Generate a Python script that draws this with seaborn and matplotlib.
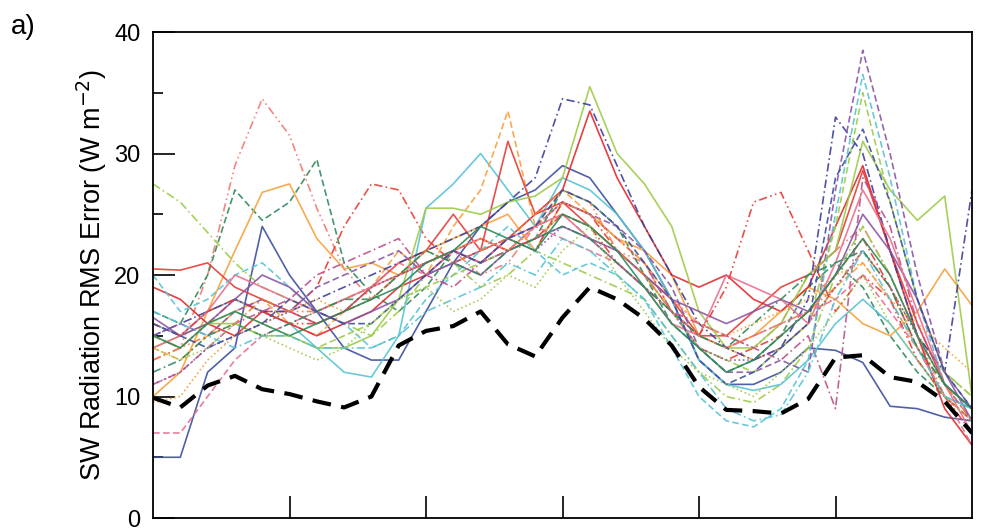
import numpy as np
import pandas as pd
import matplotlib
matplotlib.use("Agg")
import matplotlib.pyplot as plt
import seaborn as sns

# x positions (31 samples), ticks every 5
x_vals = list(range(31))
x_ticks = [5, 10, 15, 20, 25]
y_ticks = [0, 10, 20, 30, 40]

# ensemble members
m01 = [5, 5, 12, 14, 24, 20, 17, 14, 13, 13, 17, 21, 24, 26, 27, 29, 28, 25, 22, 18, 13, 11, 11, 12, 14, 13.8, 12.8, 9.2, 9.0, 8.3, 8.0]
m02 = [13, 14, 20, 29, 34.5, 31.5, 25.5, 20.5, 18, 20, 21, 22, 20, 21, 24, 25, 23, 22, 21, 18, 16, 15, 14, 16, 20, 22, 24, 20, 15, 10, 8]
m03 = [17, 16, 20, 27, 24.5, 26, 29.5, 21, 18.5, 17, 19, 22, 21, 22, 23, 27, 26, 24, 20, 16, 14, 12, 13, 15, 19, 21, 19, 15, 12, 10, 9]
m04 = [10, 12, 17, 22, 26.8, 27.5, 23, 20.5, 21, 20, 22, 23, 24, 25, 22, 26, 25, 23, 22, 20, 15, 14, 15, 17, 19, 18, 16, 15, 17, 20.5, 17.5]
m05 = [27.5, 26, 23.5, 21, 19, 18, 17, 16, 15, 17, 20, 21, 19, 20, 22, 21, 20, 19, 18, 15, 12, 10, 9.5, 11, 14, 20, 24, 20, 15, 12, 10]
m06 = [15, 14, 16, 18, 17, 17, 19, 24, 27.5, 27, 23, 21, 22, 23, 22, 26, 25, 22, 20, 17, 14, 13, 14, 15, 17, 20, 23, 19, 14, 10, 8]
m07 = [16, 15, 17, 18, 17, 16, 14, 12, 11.6, 15, 25.5, 27.5, 30, 27, 24, 28, 27, 25, 22, 18, 13, 11, 10.5, 11, 13, 16, 18, 16, 13, 10, 9]
m08 = [14, 13, 15, 17, 18, 16, 15, 17, 19, 22, 20, 24, 27, 33.5, 24, 27, 25, 23, 21, 17, 15, 14, 13, 14, 16, 19, 21, 18, 14, 11, 9]
m09 = [20.5, 20.4, 21, 19, 18, 17, 16, 17, 19, 21, 22, 25, 22, 31, 25, 26, 24, 22, 20, 18, 15, 15, 17, 19, 20, 22, 28.6, 22, 16, 11, 9]
m10 = [19, 18, 16, 15, 17, 16, 15, 16, 17, 19, 20, 22, 21, 23, 25, 27, 33.5, 28, 24, 20, 19, 20, 18, 17, 19, 24, 29, 22, 15, 9, 6]
m11 = [14, 15, 16, 16, 15, 15, 14, 14, 15, 18, 25.5, 25.5, 25, 26, 26.5, 28, 35.5, 30, 27.5, 24, 17, 14, 14, 16, 20, 22, 31, 27, 24.5, 26.5, 10]
m12 = [15, 16, 17, 18, 17, 17, 18, 19, 20, 21, 22, 23, 24, 26, 28, 34.5, 34, 29, 24, 20, 16, 14, 13, 14, 18, 33, 30, 22, 15, 12, 27]
m13 = [15, 16, 15, 17, 18, 17, 19, 20, 21, 22, 20, 21, 22, 23, 24, 26, 25, 24, 22, 19, 14, 12, 12, 13, 12, 27, 38.5, 30, 20, 12, 9]
m14 = [20, 17, 18, 20, 21, 19, 17, 16, 14, 15, 18, 20, 22, 24, 22, 20, 21, 20, 18, 14, 10, 8, 7.5, 9, 13, 25, 36.5, 28, 18, 11, 9]
m15 = [15, 14, 16, 17, 16, 15, 14, 15, 16, 18, 19, 20, 21, 22, 23, 25, 24, 22, 20, 17, 14, 13, 12, 14, 16, 24, 35, 26, 18, 12, 10]
m16 = [11, 12, 14, 16, 17, 18, 20, 21, 22, 23, 20, 19, 21, 22, 24, 26, 25, 23, 21, 17, 16, 15, 14, 13, 15, 9, 28, 24, 16, 11, 8]
m17 = [16.5, 15, 16, 18, 20, 19, 17, 16, 17, 18, 20, 21, 20, 22, 23, 24, 23, 22, 20, 18, 17, 16, 17, 18, 17, 20, 25, 22, 18, 12, 8]
m18 = [14, 15, 17, 20, 19, 18, 17, 18, 19, 20, 21, 22, 23, 22, 24, 25, 23, 21, 19, 16, 15, 20, 19, 18, 16, 21, 27, 23, 17, 11, 7]
m19 = [13, 14, 15, 16, 18, 17, 17, 18, 19, 20, 22, 21, 22, 23, 25, 27, 26, 22, 20, 17, 15, 14, 15, 16, 17, 19, 22, 19, 15, 11, 8]
m20 = [16, 15, 17, 18, 17, 16, 16, 17, 18, 20, 21, 22, 23, 22, 23, 25, 24, 21, 19, 17, 15, 19, 26, 26.8, 22, 17, 20, 18, 13, 10, 7]
m21 = [9.5, 10, 13, 15, 16, 17, 18, 17, 18, 20, 21, 22, 23, 22, 24, 26, 25, 23, 21, 18, 16, 15, 16, 17, 18, 20, 21, 18, 16, 14, 12]
m22 = [7, 7, 10, 13, 15, 16, 17, 18, 19, 21, 20, 22, 21, 23, 24, 23, 22, 21, 19, 17, 15, 14, 15, 16, 17, 18, 20, 17, 14, 10, 6]
m23 = [11, 12, 14, 15, 16, 17, 16, 17, 19, 20, 21, 22, 21, 23, 22, 24, 23, 21, 19, 17, 14, 13, 13, 14, 16, 19, 22, 19, 15, 11, 9]
m24 = [15, 14, 16, 17, 16, 15, 16, 17, 18, 19, 21, 22, 24, 23, 22, 25, 24, 22, 19, 16, 14, 12, 13, 15, 17, 20, 23, 20, 15, 11, 9]
m25 = [17, 16, 15, 14, 15, 15, 14, 14, 14, 15, 17, 18, 19, 21, 20, 23, 22, 20, 18, 15, 12, 9, 8, 8.5, 12, 18, 22, 18, 14, 10, 9]
m26 = [12, 13, 15, 16, 15, 16, 17, 18, 18, 20, 22, 21, 20, 22, 23, 24, 23, 21, 19, 17, 15, 14, 16, 18, 20, 21, 22, 19, 14, 11, 9]
m27 = [16, 15, 14, 15, 16, 18, 17, 16, 16, 18, 20, 22, 21, 23, 24, 27, 26, 24, 21, 18, 13, 11, 12, 14, 16, 28, 32, 26, 18, 12, 9]
m28 = [14, 13, 14, 16, 15, 14, 13, 14, 16, 18, 19, 17, 18, 20, 19, 22, 24, 20, 17, 14, 12, 11, 10, 12, 14, 17, 20, 16, 13, 10, 8]

# thick black dashed line
best = [9.9, 9.1, 10.9, 11.7, 10.6, 10.2, 9.6, 9.1, 10.0, 14.2, 15.4, 15.8, 17.0, 14.3, 13.3, 16.5,
        19.0, 18.0, 16.4, 14.2, 10.8, 8.9, 8.8, 8.6, 9.8, 13.2, 13.4, 11.6, 11.2, 9.6, 7.0]

members = [m01, m02, m03, m04, m05, m06, m07, m08, m09, m10, m11, m12, m13, m14,
           m15, m16, m17, m18, m19, m20, m21, m22, m23, m24, m25, m26, m27, m28]

blue = '#3d4f9f'
orange = '#f7a13c'
dgreen = '#2f8a5c'
red = '#e83b35'
purple = '#8a55a5'
cyan = '#58c3d5'
ygreen = '#9dcb48'
pink = '#e8708e'
salmon = '#f27a72'
ored = '#f47b35'

member_colors = [blue, salmon, dgreen, orange, ygreen, red, cyan, orange, red, '#e02a2e',
                 ygreen, '#3b3f9a', purple, cyan, ygreen, '#c0508a', purple, pink, ored, red,
                 orange, pink, purple, dgreen, cyan, dgreen, blue, ygreen]

solid = ''
dash = (4, 2)
dashdot = (5, 2, 1, 2)
dot = (1, 1.6)
dashdotdot = (5, 2, 1, 2, 1, 2)
member_styles = [solid, dashdotdot, dash, solid, dashdot, dashdot, solid, dash, solid, solid,
                 solid, dashdot, dash, dash, dash, dashdot, solid, solid, dashdotdot, dashdotdot,
                 dot, dash, dot, solid, dashdot, dashdot, dash, dot]

names = ['m%02d' % (i + 1) for i in range(len(members))]
df = pd.DataFrame({
    'x': x_vals * len(members),
    'rmse': np.concatenate(members),
    'model': np.repeat(names, len(x_vals)),
})
best_df = pd.DataFrame({'x': x_vals, 'rmse': best})

sns.set_style("white")
plt.rcParams['font.family'] = ['Liberation Sans', 'DejaVu Sans']
plt.rcParams['text.color'] = 'black'
plt.rcParams['axes.labelcolor'] = 'black'
plt.rcParams['ytick.color'] = 'black'
plt.rcParams['xtick.color'] = 'black'

fig = plt.figure(figsize=(10, 5.3), dpi=100)
ax = fig.add_axes([0.153, 0.0226, 0.819, 0.917])

sns.lineplot(data=df, x='x', y='rmse', hue='model', style='model',
             palette=dict(zip(names, member_colors)),
             dashes=dict(zip(names, member_styles)),
             linewidth=1.2, alpha=0.9, legend=False, ax=ax)
sns.lineplot(data=best_df, x='x', y='rmse', color='black', linewidth=3.0,
             dashes=False, ax=ax).lines[-1].set_dashes((4.5, 2.5))

ax.set_xlim(0, 30)
ax.set_ylim(0, 40)
ax.set_xticks(x_ticks)
ax.set_xticklabels([])
ax.set_yticks(y_ticks)
ax.set_yticks([5, 15, 25, 35], minor=True)
ax.tick_params(axis='both', which='major', direction='in', length=16, width=1.2,
               labelsize=17, pad=9, left=True, bottom=True)
ax.tick_params(axis='y', which='minor', direction='in', length=7, width=1.2, left=True)
ax.set_xlabel('')
ax.set_ylabel('SW Radiation RMS Error (W m$^{-2}$)', fontsize=19.5, labelpad=4)
for s in ax.spines.values():
    s.set_linewidth(1.3)
    s.set_color('black')

fig.text(0.011, 0.935, 'a)', fontsize=20)

fig.savefig('out.png', dpi=100)
